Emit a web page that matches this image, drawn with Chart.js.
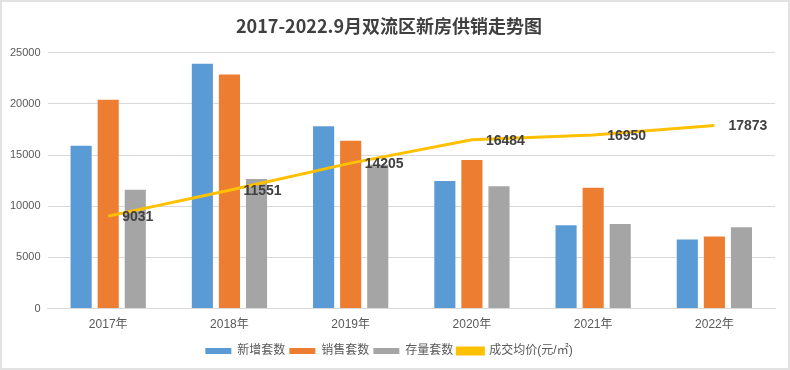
<!DOCTYPE html>
<html>
<head>
<meta charset="utf-8">
<script src="https://cdn.jsdelivr.net/npm/chart.js@4.4.1/dist/chart.umd.min.js"></script>
<style>
  html, body { margin: 0; padding: 0; background: #fff; }
  #wrap { position: relative; width: 790px; height: 370px; }
  #frame { position: absolute; left: 0; top: 0; width: 790px; height: 370px; box-sizing: border-box; border: 2px solid #e2e2e2; pointer-events: none; }
</style>
</head>
<body>
<div id="wrap">
  <canvas id="c" width="790" height="370"></canvas>
  <div id="frame"></div>
</div>
<script>
const titleText = '2017-2022.9月双流区新房供销走势图';
const categories = ['2017年', '2018年', '2019年', '2020年', '2021年', '2022年'];
const newSupply = [15900, 23900, 17800, 12450, 8150, 6750];
const sales = [20400, 22850, 16400, 14500, 11800, 7050];
const stock = [11600, 12650, 14050, 11950, 8250, 7950];
const avgPrice = [9031, 11551, 14205, 16484, 16950, 17873];
const seriesNames = ['新增套数', '销售套数', '存量套数', '成交均价(元/㎡)'];
const yTicks = [0, 5000, 10000, 15000, 20000, 25000];

const FONT = '"Liberation Sans", "Noto Sans CJK SC", sans-serif';

const lineLabels = {
  id: 'lineLabels',
  afterDatasetsDraw(chart) {
    const ctx = chart.ctx;
    const meta = chart.getDatasetMeta(3);
    ctx.save();
    ctx.font = 'bold 14px ' + FONT;
    ctx.fillStyle = '#404040';
    ctx.textAlign = 'left';
    ctx.textBaseline = 'middle';
    meta.data.forEach((pt, i) => {
      ctx.fillText(String(avgPrice[i]), pt.x + 14, pt.y + 1);
    });
    ctx.restore();
  }
};

new Chart(document.getElementById('c'), {
  type: 'bar',
  data: {
    labels: categories,
    datasets: [
      { label: seriesNames[0], data: newSupply, backgroundColor: '#5B9BD5', categoryPercentage: 0.67, barPercentage: 0.78 },
      { label: seriesNames[1], data: sales, backgroundColor: '#ED7D31', categoryPercentage: 0.67, barPercentage: 0.78 },
      { label: seriesNames[2], data: stock, backgroundColor: '#A5A5A5', categoryPercentage: 0.67, barPercentage: 0.78 },
      { type: 'line', label: seriesNames[3], data: avgPrice, borderColor: '#FFC000', backgroundColor: '#FFC000', borderWidth: 3, pointRadius: 0, tension: 0, fill: false, order: -1 }
    ]
  },
  options: {
    responsive: false,
    animation: false,
    devicePixelRatio: 1,
    layout: { padding: { left: 3, right: 15, top: 0, bottom: 3 } },
    plugins: {
      title: {
        display: true,
        text: titleText,
        color: '#404040',
        font: { family: '"Noto Sans CJK SC", sans-serif', size: 18, weight: 'bold' },
        padding: { top: 15, bottom: 16 }
      },
      legend: {
        position: 'bottom',
        labels: {
          boxWidth: 26,
          boxHeight: 6,
          padding: 4,
          color: '#595959',
          font: { family: FONT, size: 12 },
          sort: (a, b) => a.datasetIndex - b.datasetIndex
        }
      },
      tooltip: { enabled: false }
    },
    scales: {
      x: {
        grid: { display: false, drawTicks: false },
        border: { display: true, color: '#D9D9D9' },
        ticks: { color: '#595959', font: { family: FONT, size: 12 }, padding: 9 }
      },
      y: {
        min: 0,
        max: 25000,
        afterBuildTicks(axis) { axis.ticks = yTicks.map(v => ({ value: v })); },
        grid: { color: '#D9D9D9', drawTicks: false },
        border: { display: false },
        ticks: { color: '#595959', font: { family: FONT, size: 11 }, padding: 7, callback: (v) => String(v) }
      }
    }
  },
  plugins: [lineLabels]
});
</script>
</body>
</html>
